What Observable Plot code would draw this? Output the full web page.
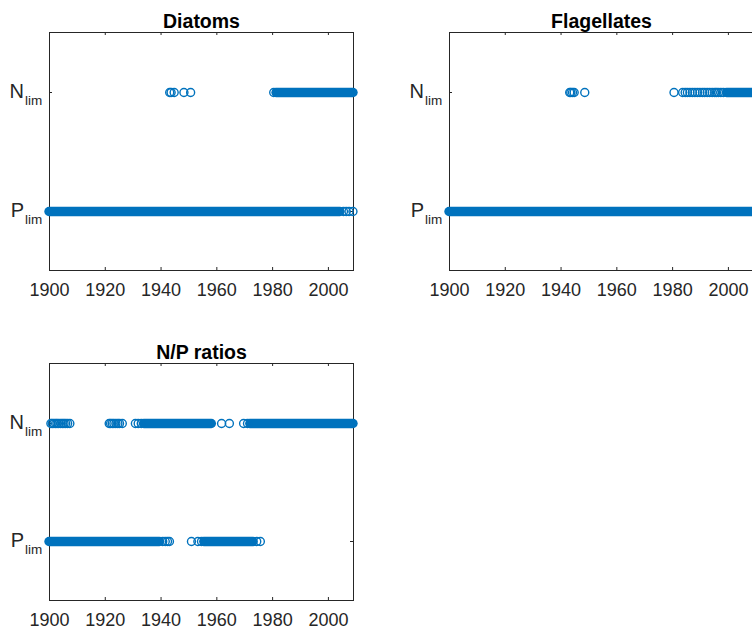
<!DOCTYPE html>
<html>
<head>
<meta charset="utf-8">
<script src="https://cdn.jsdelivr.net/npm/d3@7"></script>
<script src="https://cdn.jsdelivr.net/npm/@observablehq/plot@0.6"></script>
<style>
  html, body { margin: 0; padding: 0; background: #fff; overflow: hidden; }
  #fig { position: relative; width: 752px; height: 633px; overflow: hidden; background: #fff; }
  #fig > div, #fig > svg { position: absolute; }
</style>
</head>
<body>
<div id="fig"></div>
<script>
// ---- data ----
const xTickValues = [1900, 1920, 1940, 1960, 1980, 2000];
const xDomain = [1900, 2009];
const limitLevels = ["N_lim", "P_lim"];
const yTickMain = ["N", "P"];
const yTickSub = ["lim", "lim"];
const panelTitles = ["Diatoms", "Flagellates", "N/P ratios"];

// Diatoms
const diatomsPRuns = [[1900, 2004.3]];
const diatomsPYears = [2005.4, 2006.4, 2007.4, 2008.8];
const diatomsNRuns = [[1981.4, 2009]];
const diatomsNYears = [1943.1, 1943.6, 1944.7, 1948.2, 1950.6, 1980.4];

// Flagellates
const flagPRuns = [[1900, 2009]];
const flagPYears = [];
const flagNRuns = [[1999.5, 2009]];
const flagNYears = [1943.1, 1943.5, 1944.1, 1944.7, 1948.5, 1980.5, 1983.6, 1984.5, 1985.3,
  1986.2, 1987.1, 1988.0, 1988.9, 1989.8, 1990.7, 1991.5, 1992.4, 1993.3, 1994.2, 1995.1,
  1995.7, 1996.4, 1997.3, 1998.2];

// N/P ratios
const npPRuns = [[1900, 1939.6], [1955.5, 1973.2]];
const npPYears = [1940.6, 1941.5, 1942.3, 1943.0, 1950.9, 1953.2, 1954.5, 1974.3, 1975.6];
const npNRuns = [[1934, 1958.2], [1972, 2009]];
const npNYears = [1900.5, 1901.0, 1901.6, 1902.2, 1902.7, 1903.3, 1904.0, 1904.6, 1905.2,
  1905.8, 1906.5, 1907.3,
  1921.4, 1921.9, 1922.5, 1923.1, 1923.8, 1924.5, 1925.1, 1926.1, 1930.8, 1931.8, 1932.9,
  1961.7, 1964.5, 1969.6, 1971.0];

// ---- drawing ----
const blue = "#0072BD";
const ink = "#262626";
const font = "'Liberation Sans', Arial, Helvetica, sans-serif";

function runRows(runs, level) { return runs.map(([start, end]) => ({start, end, level})); }
function pointRows(years, level) { return years.map(year => ({year, level})); }

function panel({title, pRuns, pYears, nRuns, nYears, left, top, plotH}) {
  const W = 304, H = plotH, mL = 49, mT = 32;
  const runs = [...runRows(pRuns, "P_lim"), ...runRows(nRuns, "N_lim")];
  const pts = [...pointRows(pYears, "P_lim"), ...pointRows(nYears, "N_lim")];
  const labels = limitLevels.map((level, i) => ({level, main: yTickMain[i], sub: yTickSub[i]}));
  const chart = Plot.plot({
    width: mL + W + 47,
    height: mT + H + 62,
    marginLeft: mL, marginRight: 47, marginTop: mT, marginBottom: 62,
    style: {fontFamily: font, color: ink, background: "transparent", overflow: "visible"},
    x: {domain: xDomain},
    y: {type: "point", domain: limitLevels, padding: 0.5, axis: null},
    marks: [
      Plot.frame({stroke: ink, strokeWidth: 1}),
      Plot.ruleX(xTickValues, {x: d => d, insetTop: H - 3, stroke: ink}),
      Plot.ruleX(xTickValues, {x: d => d, insetBottom: H - 3, stroke: ink}),
      Plot.ruleY(limitLevels, {y: d => d, insetRight: W - 3, stroke: ink}),
      Plot.ruleY(limitLevels, {y: d => d, insetLeft: W - 3, stroke: ink}),
      Plot.axisX({ticks: xTickValues, tickSize: 0, tickPadding: 12.5, fontSize: 18,
        tickFormat: d => String(d), label: null, fill: ink}),
      Plot.text(labels, {y: "level", text: "main", frameAnchor: "left", textAnchor: "end",
        lineAnchor: "bottom", dx: -25.5, dy: 5.5, fontSize: 20, fill: ink}),
      Plot.text(labels, {y: "level", text: "sub", frameAnchor: "left", textAnchor: "start",
        lineAnchor: "bottom", dx: -24.5, dy: 12.5, fontSize: 13.5, fill: ink}),
      Plot.text([title], {text: d => d, frameAnchor: "top", lineAnchor: "bottom", dy: -5,
        fontSize: 19.5, fontWeight: "bold", fill: "#000"}),
      Plot.ruleY(runs, {y: "level", x1: "start", x2: "end", stroke: blue, strokeWidth: 9.4,
        strokeLinecap: "round"}),
      Plot.dot(pts, {x: "year", y: "level", r: 4, stroke: blue, strokeWidth: 1.4, fill: "none"})
    ]
  });
  chart.style.left = left + "px";
  chart.style.top = top + "px";
  document.getElementById("fig").appendChild(chart);
}

panel({title: panelTitles[0], pRuns: diatomsPRuns, pYears: diatomsPYears, nRuns: diatomsNRuns, nYears: diatomsNYears, left: 0, top: 0, plotH: 238});
panel({title: panelTitles[1], pRuns: flagPRuns, pYears: flagPYears, nRuns: flagNRuns, nYears: flagNYears, left: 400, top: 0, plotH: 238});
panel({title: panelTitles[2], pRuns: npPRuns, pYears: npPYears, nRuns: npNRuns, nYears: npNYears, left: 0, top: 331, plotH: 237});
</script>
</body>
</html>
